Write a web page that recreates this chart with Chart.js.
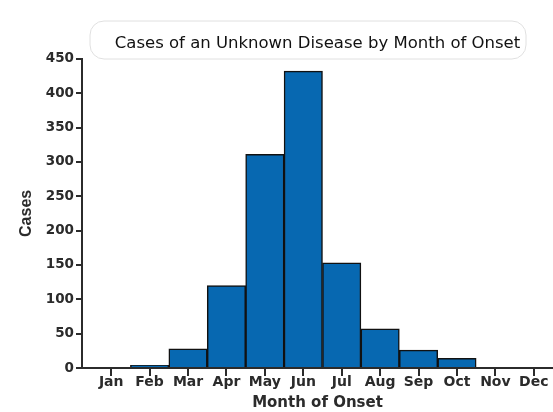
<!DOCTYPE html>
<html>
<head>
<meta charset="utf-8">
<script src="https://cdn.jsdelivr.net/npm/chart.js@4.4.1/dist/chart.umd.min.js"></script>
<style>
    body { margin: 0; background: #fff; overflow: hidden; }
    #wrap { width: 553px; height: 412px; position: relative; }
</style>
</head>
<body>
<div id="wrap"><canvas id="chart"></canvas></div>
<script>
// Data
const months = ['Jan', 'Feb', 'Mar', 'Apr', 'May', 'Jun', 'Jul', 'Aug', 'Sep', 'Oct', 'Nov', 'Dec'];
const cases = [0, 4, 28, 120, 311, 432, 153, 57, 26, 14, 0, 0];
const yTicks = [0, 50, 100, 150, 200, 250, 300, 350, 400, 450];

const ink = '#2b2b2b';
const wide = 'DejaVu Sans, Verdana, sans-serif';
const xMin = -0.76;
const xMax = 11.5;

// faint rounded outline around the title, like in the scanned original
const titleFrame = {
    id: 'titleFrame',
    beforeDraw(chart) {
        const ctx = chart.ctx;
        ctx.save();
        ctx.strokeStyle = '#e0e0e0';
        ctx.lineWidth = 1;
        ctx.beginPath();
        ctx.roundRect(90, 21, 436, 38, 14);
        ctx.stroke();
        ctx.restore();
    }
};

const ctx = document.getElementById('chart');
new Chart(ctx, {
    type: 'bar',
    data: {
        datasets: [{
            data: months.map((m, i) => ({ x: i, y: cases[i] })),
            backgroundColor: '#0768b1',
            borderColor: '#111',
            borderWidth: 1.5,
            barPercentage: 1,
            categoryPercentage: 1
        }]
    },
    options: {
        responsive: true,
        maintainAspectRatio: false,
        animation: false,
        layout: { padding: 0 },
        plugins: {
            legend: { display: false },
            tooltip: { enabled: false },
            title: {
                display: true,
                text: 'Cases of an Unknown Disease by Month of Onset',
                fullSize: false,
                color: '#111',
                font: { family: wide, size: 16.5, weight: 'normal' },
                padding: { top: 34, bottom: 5 }
            }
        },
        scales: {
            y: {
                min: 0,
                max: 450,
                afterBuildTicks: scale => { scale.ticks = yTicks.map(v => ({ value: v })); },
                afterFit: scale => { scale.width = 82; },
                border: { display: true, color: ink, width: 2 },
                grid: { drawOnChartArea: false, drawTicks: true, tickLength: 6, color: ink, lineWidth: 2 },
                ticks: {
                    color: ink,
                    padding: 2,
                    font: { family: wide, size: 13.5, weight: 'bold' }
                },
                title: {
                    display: true,
                    text: 'Cases',
                    color: ink,
                    font: { family: 'Liberation Sans, Arial, sans-serif', size: 16, weight: 'bold' },
                    padding: { top: 17, bottom: 0 }
                }
            },
            // tick marks between the months
            xt: {
                type: 'linear',
                position: 'bottom',
                weight: 0,
                offset: false,
                min: xMin,
                max: xMax,
                afterBuildTicks: scale => {
                    scale.ticks = months.slice(1).map((m, i) => ({ value: i + 0.5 }));
                },
                afterFit: scale => { scale.height = 5; },
                border: { display: true, color: ink, width: 2 },
                grid: { drawOnChartArea: false, drawTicks: true, tickLength: 8, color: ink, lineWidth: 2 },
                ticks: { display: false }
            },
            x: {
                type: 'linear',
                position: 'bottom',
                weight: 1,
                offset: false,
                min: xMin,
                max: xMax,
                afterBuildTicks: scale => {
                    scale.ticks = months.map((m, i) => ({ value: i }));
                },
                afterFit: scale => { scale.height = 39; },
                border: { display: false },
                grid: { display: false, drawTicks: false, offset: false },
                ticks: {
                    autoSkip: false,
                    maxRotation: 0,
                    padding: 1,
                    color: ink,
                    font: { family: wide, size: 14, weight: 'bold' },
                    callback: value => months[value]
                },
                title: {
                    display: true,
                    text: 'Month of Onset',
                    color: ink,
                    font: { family: wide, size: 15, weight: 'bold' },
                    padding: { top: 0, bottom: 0 }
                }
            }
        }
    },
    plugins: [titleFrame]
});
</script>
</body>
</html>
